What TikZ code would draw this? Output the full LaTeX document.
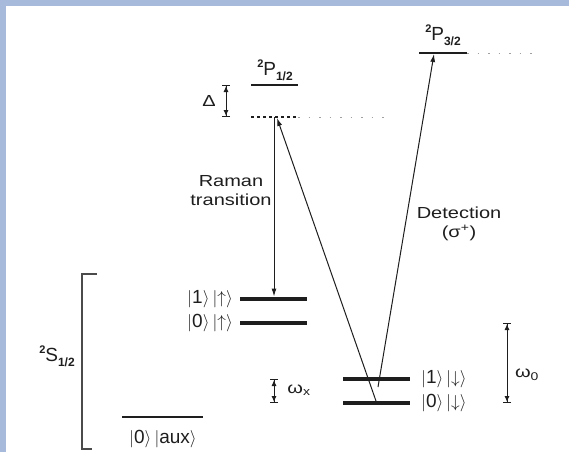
\documentclass[tikz,border=0pt]{standalone}
\usepackage{fontspec}
\setmainfont{Liberation Sans}[FakeStretch=1.25]
\newfontfamily\termfont{Liberation Sans}
\usetikzlibrary{arrows.meta,positioning}
\definecolor{slideblue}{HTML}{A8BADC}
\definecolor{ink}{HTML}{1E1E1E}
\definecolor{ghostgray}{HTML}{A0A0A0}
\newcommand{\kt}[1]{\ensuremath{|}#1\ensuremath{\rangle}}
\newcommand{\trm}[3]{\raisebox{8pt}{\fontsize{11}{11}\selectfont\bfseries #1}#2\raisebox{-5pt}{\fontsize{12}{12}\selectfont\bfseries #3}}
\tikzset{
  lbl/.style={font=\fontsize{16}{19}\selectfont, text=ink, inner sep=1pt, align=center},
  ket/.style={lbl, font=\termfont\fontsize{19}{22}\selectfont},
  term/.style={font=\termfont\fontsize{19}{22}\selectfont, text=ink, inner sep=0pt},
  plvl/.style={draw=ink, line width=1.6pt},
  slvl/.style={draw=ink, line width=4.5pt},
  ghost/.style={draw=ghostgray, line width=1pt, dash pattern=on 1.5pt off 9pt},
  arr/.style={-{Latex[length=8pt,width=5pt]}, line width=1pt, draw=ink},
  span/.style={{Bar[width=8pt,line width=1pt,sep=0pt]Latex[length=6pt,width=5pt,sep=0pt]}-{Latex[length=6pt,width=5pt,sep=0pt]Bar[width=8pt,line width=1pt,sep=0pt]}, line width=1pt, draw=ink},
  brk/.style={draw=ink!80, line width=1.5pt},
}

\begin{document}
\begin{tikzpicture}[x=1pt,y=-1pt]
    \fill[slideblue] (0,0) rectangle (569,452);
    \fill[white] (6,6) rectangle (569,452);
    \useasboundingbox (0,0) rectangle (569,452);
    % excited levels
    \coordinate (p12-l) at (251,85);  \coordinate (p12-r) at (298,85);
    \coordinate (vr-l) at (251,117);  \coordinate (vr-r) at (298,117);
    \coordinate (p32-l) at (419,53);  \coordinate (p32-r) at (467,53);
    \draw[plvl] (p12-l) -- (p12-r);
    \draw[plvl, dashed] (vr-l) -- (vr-r);
    \draw[ghost] (vr-r) -- ++(87,0);
    \draw[plvl] (p32-l) -- (p32-r);
    \draw[ghost] (p32-r) -- ++(65,0);
    \node[term] (tp12) at (275,70) {\trm{2}{P}{1/2}};
    \node[term] (tp32) at (443,35) {\trm{2}{P}{3/2}};
    \node[term] (ts12) at (57,356) {\trm{2}{S}{1/2}};
    % ground levels
    \foreach \n/\x/\y in {u1/240/299, u0/240/323, d1/343/379, d0/343/403}
      \draw[slvl] (\x,\y) coordinate (\n-l) -- ++(67,0) coordinate (\n-r);
    \node[ket, left=6pt of u1-l] (ku1) {\kt{1}\,\kt{$\uparrow$}};
    \node[ket, left=6pt of u0-l] (ku0) {\kt{0}\,\kt{$\uparrow$}};
    \node[ket, right=10pt of d1-r] (kd1) {\kt{1}\,\kt{$\downarrow$}};
    \node[ket, right=10pt of d0-r] (kd0) {\kt{0}\,\kt{$\downarrow$}};
    \draw[plvl, line width=1.5pt] (122,417) coordinate (aux-l) -- (203,417) coordinate (aux-r);
    \node[ket] (kaux) at (163,439) {\kt{0}\,\kt{aux}};
    \draw[brk] (97,274) -- (82,274) -- (82,449) -- (92,449);
    % transitions
    \coordinate (vr1) at (274,117);
    \coordinate (u1t) at (274,296.5);
    \coordinate (vr2) at (277,118);
    \coordinate (dg) at (376,401);
    \coordinate (dt) at (378,387);
    \coordinate (p32t) at (434,54);
    \draw[arr] (vr1) -- (u1t);
    \draw[arr] (dg) -- (vr2);
    \draw[arr] (dt) -- (p32t);
    \node[lbl] (raman) at (231,191) {Raman\\transition};
    \node[lbl] (detect) at (459,224) {Detection\\(σ\textsuperscript{+})};
    % splittings
    \draw[span] ([xshift=-25pt]p12-l) -- ([xshift=-25pt]vr-l);
    \node[lbl] (delta) at (209,101) {Δ};
    \draw[span] ([xshift=-69pt]d1-l) -- ([xshift=-69pt]d0-l);
    \node[lbl] (wx) at (299,390) {ω\textsubscript{x}};
    \coordinate (w0t) at (507,323);
    \coordinate (w0b) at (507,403);
    \draw[span] (w0t) -- (w0b);
    \node[lbl] (w0) at (527,375) {ω\textsubscript{0}};
\end{tikzpicture}
\end{document}
